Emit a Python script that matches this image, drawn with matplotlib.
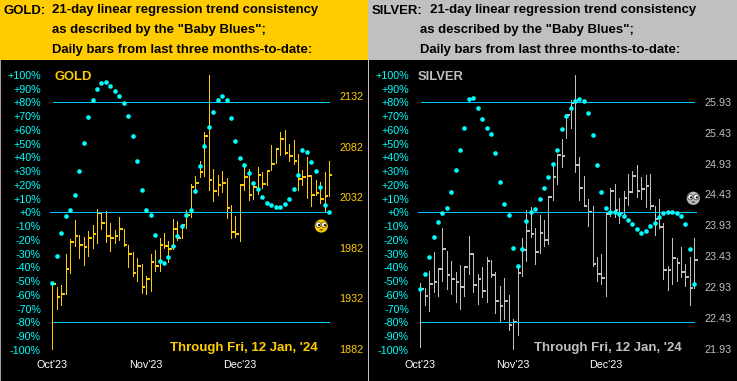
import matplotlib
matplotlib.use("Agg")
import matplotlib.pyplot as plt
from matplotlib.patches import Rectangle, Circle, Ellipse

plt.rcParams['font.family'] = ['Liberation Sans', 'DejaVu Sans']

W, H = 737, 381

gold_high = [1946.6,1943.3,1944.9,1975.5,1990.3,2009.1,1994.3,1992.3,1998.2,2004.2,2020,2016.7,2018,2006.1,1999.2,2012.1,2000.2,1984.4,1977.5,1971.6,1965.7,1953.8,1975.5,1979.5,1991.3,1996.3,1988.4,2010.1,2008.1,2005.1,2019,2044.6,
             2052.6,2067.4,2096,2152.3,2059.5,2053.6,2057.5,2050.6,2024,2013.1,2044.7,2062.4,2059.5,2046.7,2061.5,2056.5,2058.5,2083.2,2080.2,2096,2098,2084.2,2088.1,2074.3,2058.5,2071.3,2053.6,2048.6,2046.7,2056.5,2067.4]
gold_low = [1882.4,1921.6,1925.2,1936,1956.8,1983.4,1971.6,1964.7,1973.6,1981.5,1986.4,2000.2,1987.4,1978.5,1986.4,1989.3,1983.8,1962.7,1953.8,1948.9,1937,1936,1939,1958.8,1958.8,1981.5,1967.6,1980.5,1989.3,1991.3,2001.2,2012.1,
            2035.8,2051.6,2052.6,2038.8,2027.9,2033.8,2036.8,2011.1,1991.4,1992.4,1988.4,2038.8,2028.9,2029.9,2034.8,2040.7,2043.7,2058.5,2065.4,2073.3,2074.3,2067.4,2064.4,2038.8,2043.7,2030.9,2023,2033.8,2025.9,2017,2032.8]
gold_close = [1945.9,1933.4,1936,1960.7,1987.4,1993.6,1984.8,1982.8,1991.7,1995.3,2016.3,2006.5,1993.6,1991.7,1993.6,2000.5,1984.8,1975.9,1957.1,1964,1943.3,1951.2,1967.6,1964,1984.8,1983.8,1980.8,2000.5,1991.3,2004.2,2014.4,2042,
              2046,2056.9,2092.4,2049,2038.1,2044,2046,2021.3,1997.6,1995.7,2044,2051.9,2034.2,2042,2053.9,2045,2057.8,2064.8,2079.6,2089.4,2075.6,2072.6,2067.7,2049.9,2051.9,2052.9,2034.2,2036.1,2030.2,2033.2,2053.9]
gold_blues = [-51.2,-31.6,-14.9,-2.5,1.6,12.8,30.2,50.6,69.5,81.6,89.7,94,95,92,88.4,84.8,79.5,70.2,55.7,37.5,16.4,1.6,-1.8,-16.3,-35.2,-36.7,-32.3,-24.3,-17,-9.8,-1.8,1.9,
              15.7,34,48.5,62.3,73.2,81.9,84.8,81.9,68.8,52.1,39.7,34.7,28.8,21.6,17.2,11.4,7,5.3,4.1,4.1,6.3,9.9,17.2,27.4,45.6,44.1,36.8,30.3,18.7,5.6,0.5]

silver_high = [22.99,22.92,23.19,23.50,23.24,23.89,23.52,23.35,23.18,23.29,23.27,23.76,23.48,23.14,23.26,23.42,23.37,23.18,22.95,23.08,22.80,22.41,23.26,23.73,24.18,24.23,23.89,24.10,24.02,24.40,24.91,25.08,
               25.33,25.72,25.96,26.36,25.04,24.73,24.36,24.24,23.42,23.47,24.13,24.53,24.60,24.37,24.49,24.76,24.81,24.91,24.71,24.74,24.76,24.24,24.36,23.97,23.27,23.73,23.40,23.58,23.30,23.42,23.73]
silver_low = [21.97,22.64,22.54,22.85,22.79,23.03,22.90,22.82,22.69,22.58,22.79,23.14,22.85,22.66,22.77,22.69,23.09,22.51,22.38,22.41,22.24,21.93,22.16,23.11,23.35,23.74,23.30,23.48,23.60,23.63,24.34,24.60,
              24.87,25.34,25.51,24.79,24.34,24.24,23.92,23.27,23.03,22.98,22.79,24.08,24.07,23.97,24.08,24.26,24.47,24.39,24.36,24.23,24.19,23.77,23.89,23.06,22.88,22.98,23.03,23.09,22.95,22.64,22.92]
silver_close = [22.90,22.79,22.98,23.01,23.22,23.55,23.13,23.06,23.01,22.93,23.26,23.47,22.97,23.06,22.87,23.35,23.13,22.71,22.63,22.71,22.32,22.37,23.16,23.53,23.84,23.79,23.50,23.81,23.69,24.39,24.71,25.07,
                25.05,25.72,25.91,24.91,24.53,24.24,24.15,23.30,23.15,23.08,24.11,24.49,24.18,24.13,24.37,24.47,24.73,24.49,24.52,24.57,24.24,24.03,23.90,23.21,23.21,23.40,23.32,23.18,23.09,22.92,23.37]
silver_blues = [-55.8,-44.9,-32.5,-18,-7.1,-0.5,3.1,14.7,30.7,45.3,61.3,82.4,83.1,75.8,67.8,61.3,56.9,43.1,22,6,-2,-26,-39.1,-26.7,-6.4,0.2,2.4,9.6,17.6,25.6,35.1,45.3,
                60.6,70,75.9,81,82.4,81,72.2,56.2,34.4,14.8,3.1,0.2,0.5,-1,-2.7,-5.6,-8.5,-12.1,-15,-13.6,-9.9,-7.8,-3.4,-0.5,0.2,0.2,-0.5,-2.7,-8.5,-26.7,-52.1]

pct_ticks = [100,90,80,70,60,50,40,30,20,10,0,-10,-20,-30,-40,-50,-60,-70,-80,-90,-100]
pct_labels = ['%+d%%' % abs(t) if t >= 0 else '-%d%%' % abs(t) for t in pct_ticks]
gold_price_ticks = [1882,1932,1982,2032,2082,2132]
silver_price_ticks = [21.93,22.43,22.93,23.43,23.93,24.43,24.93,25.43,25.93]
month_labels = ["Oct'23","Nov'23","Dec'23"]
header_lines = ['21-day linear regression trend consistency',
                'as described by the "Baby Blues";',
                'Daily bars from last three months-to-date:']
through_text = "Through Fri, 12 Jan, '24"

GOLD = '#FFCC00'
SILVER = '#C0C0C0'
BLUE = '#00C8FF'
CYAN = '#00FFFF'
TICK_PX = 10.7 * 72 / 100
PX = 72 / 100

fig = plt.figure(figsize=(W / 100, H / 100), dpi=100, facecolor='black')
bg = fig.add_axes([0, 0, 1, 1])
bg.set_xlim(0, W); bg.set_ylim(H, 0); bg.axis('off')
bg.add_patch(Rectangle((0, 0), 368, 60, fc=GOLD, ec='none'))
bg.add_patch(Rectangle((368, 0), W - 368, 60, fc=SILVER, ec='none'))
bg.add_patch(Rectangle((368, 60), 1.5, H - 60, fc=SILVER, ec='none'))
bg.add_patch(Rectangle((0, 60), 1.2, H - 60, fc='#A0A0A0', ec='none'))


def header(x_lab, lab, x_txt, x_first):
    kw = dict(color='black', fontsize=9.45, fontweight='bold', va='center', ha='left')
    bg.text(x_lab, 10.5, lab, **kw)
    bg.text(x_first, 10.5, header_lines[0], **kw)
    bg.text(x_txt, 30.5, header_lines[1], **kw)
    bg.text(x_txt, 50.5, header_lines[2], **kw)


header(4, 'GOLD:', 52, 52)
header(372, 'SILVER:', 420, 430)


def panel(x0, x62, left_px, right_px, hi, lo, cl, blues, color, ptick, pfmt, p_at, name,
          name_x, thr_x, month_x, line_x, zero_x, px_left_lab, px_right_lab):
    top, bot = 74.8, 349.8
    axw = right_px - left_px
    ax = fig.add_axes([left_px / W, (H - bot) / H, axw / W, (bot - top) / H])
    ax.patch.set_alpha(0)
    sp = (x62 - x0) / 62
    ax.set_xlim((left_px - x0) / sp, (right_px - x0) / sp)
    ax.set_ylim(-100, 100)
    for s in ax.spines.values():
        s.set_visible(False)
    ax.set_yticks(pct_ticks)
    ax.set_yticklabels(pct_labels, color=CYAN, fontsize=TICK_PX)
    ax.tick_params(axis='y', length=0, pad=(left_px - px_left_lab) * PX)
    ax.set_xticks([])

    tw = ax.twinx()
    tw.patch.set_alpha(0)
    for s in tw.spines.values():
        s.set_visible(False)
    a, b = p_at
    slope = (b[0] - a[0]) / (b[1] - a[1])
    tw.set_ylim(a[0] + (bot - a[1]) * slope, a[0] + (top - a[1]) * slope)
    tw.set_yticks(ptick)
    tw.set_yticklabels([pfmt % p for p in ptick], color=color, fontsize=TICK_PX)
    tw.tick_params(axis='y', length=0, pad=(px_right_lab - right_px) * PX)
    tw.set_xticks([])

    xs = list(range(len(hi)))
    tw.vlines(xs, lo, hi, color=color, lw=0.6, antialiased=False, zorder=3)
    tw.hlines(cl, xs, [x + 3.6 / sp for x in xs], color=color, lw=1.4, antialiased=False, zorder=3)

    ax.set_zorder(2); tw.set_zorder(1)
    to_x = lambda px: (px - x0) / sp
    ax.hlines([80, -80], to_x(line_x[0]), to_x(line_x[1]), color=BLUE, lw=0.6, antialiased=False, zorder=2)
    ax.hlines([0], to_x(zero_x[0]), to_x(zero_x[1]), color=BLUE, lw=0.6, antialiased=False, zorder=2)
    ax.scatter(xs, blues, s=11, color=CYAN, marker='o', linewidths=0, zorder=5)

    bg.text(name_x, 76.5, name, color=color, fontsize=9.4, fontweight='bold', va='center', ha='left')
    bg.text(thr_x, 348.5, through_text, color=color, fontsize=9.5, fontweight='bold', va='center', ha='right')
    for mx, m in zip(month_x, month_labels):
        bg.text(mx, 365, m, color='white', fontsize=TICK_PX, va='center', ha='center')
    return ax


panel(52.3, 329.3, 45, 332, gold_high, gold_low, gold_close, gold_blues, GOLD,
      gold_price_ticks, '%d', ((1882, 349.0), (2132, 96.0)), 'GOLD', 54.5, 317.5,
      [52, 146, 240], (52.5, 329), (50, 329), 41, 339)
panel(420.3, 694.3, 413, 698, silver_high, silver_low, silver_close, silver_blues, SILVER,
      silver_price_ticks, '%.2f', ((21.93, 349.0), (25.93, 101.7)), 'SILVER', 417.5, 681.5,
      [420, 513, 606], (420.5, 694), (418, 696), 409, 704)

over = fig.add_axes([0, 0, 1, 1], zorder=10)
over.set_xlim(0, W); over.set_ylim(H, 0); over.axis('off')
over.patch.set_alpha(0)


def face(cx, cy, col, edge):
    over.add_patch(Circle((cx, cy), 6.6, fc=col, ec='none'))
    for dx in (-2.9, 2.9):
        over.add_patch(Ellipse((cx + dx, cy - 1.3), 5.2, 5.6, angle=0, fc='white', ec=edge, lw=0.6))
        over.add_patch(Circle((cx + dx + 0.7, cy - 0.9), 1.1, fc='black', ec='none'))
    over.add_patch(Ellipse((cx, cy + 3.8), 4, 1.6, fc=edge, ec='none'))


face(321.3, 226, GOLD, '#705800')
face(693.3, 198.3, '#BDBDBD', '#505050')

fig.savefig('out.png', dpi=100, facecolor='black')
